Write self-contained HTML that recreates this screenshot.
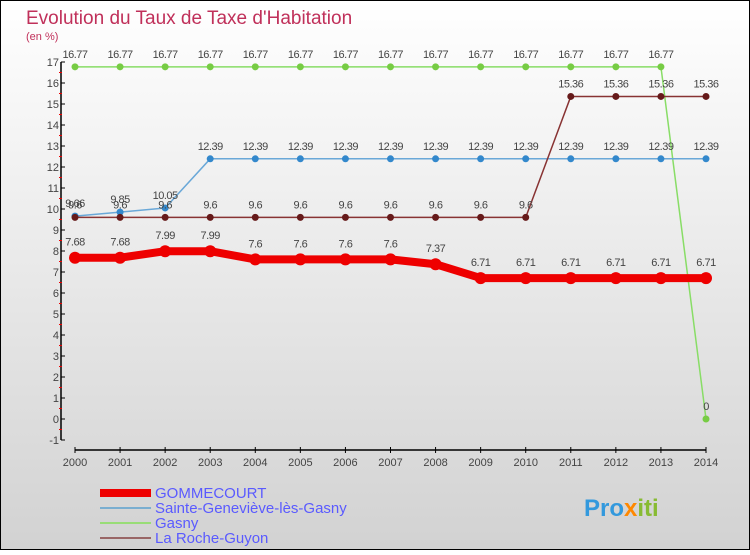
<!DOCTYPE html>
<html><head><meta charset="utf-8"><style>
body{margin:0}
#c{width:750px;height:550px;position:relative;font-family:"Liberation Sans",sans-serif}
</style></head><body>
<div id="c">
<svg id="s" width="750" height="550" xmlns="http://www.w3.org/2000/svg">
<defs><linearGradient id="bg" x1="0" y1="0" x2="0" y2="1"><stop offset="0" stop-color="#ffffff"/><stop offset="1" stop-color="#d2d2d2"/></linearGradient></defs>
<rect x="0.5" y="0.5" width="749" height="549" fill="url(#bg)" stroke="#000"/>
<text x="26" y="24" font-size="19" fill="#c0305a">Evolution du Taux de Taxe d'Habitation</text>
<text x="26" y="40" font-size="11" fill="#c0305a">(en %)</text>
<g id="axes"></g><g id="series"></g>
<g>
<rect x="100" y="489" width="51" height="8" fill="#ee0000"/>
<text x="155" y="498" font-size="15" fill="#5a5aff">GOMMECOURT</text>
<rect x="100" y="507" width="51" height="2" fill="#7aaed0"/>
<text x="155" y="513" font-size="15" fill="#5a5aff">Sainte-Geneviève-lès-Gasny</text>
<rect x="100" y="522" width="51" height="2" fill="#99dd77"/>
<text x="155" y="528" font-size="15" fill="#5a5aff">Gasny</text>
<rect x="100" y="537" width="51" height="2" fill="#996666"/>
<text x="155" y="543" font-size="15" fill="#5a5aff">La Roche-Guyon</text>
</g>
<g><text x="584" y="516" font-size="24" font-weight="bold"><tspan fill="#3399dd">Pro</tspan><tspan fill="#ff8800">x</tspan><tspan fill="#88bb33">iti</tspan></text></g>
</svg></div>
<script>
const years=[2000,2001,2002,2003,2004,2005,2006,2007,2008,2009,2010,2011,2012,2013,2014];
const yTicks=[-1,0,1,2,3,4,5,6,7,8,9,10,11,12,13,14,15,16,17];
const gommecourt=[7.68,7.68,7.99,7.99,7.6,7.6,7.6,7.6,7.37,6.71,6.71,6.71,6.71,6.71,6.71];
const sainteGenevieve=[9.66,9.85,10.05,12.39,12.39,12.39,12.39,12.39,12.39,12.39,12.39,12.39,12.39,12.39,12.39];
const gasny=[16.77,16.77,16.77,16.77,16.77,16.77,16.77,16.77,16.77,16.77,16.77,16.77,16.77,16.77,0];
const laRoche=[9.6,9.6,9.6,9.6,9.6,9.6,9.6,9.6,9.6,9.6,9.6,15.36,15.36,15.36,15.36];
const NS="http://www.w3.org/2000/svg";
const X=i=>75+i*(706-75)/(years.length-1);
const Y=v=>419-v*21;
function mk(t,a,p){const e=document.createElementNS(NS,t);for(const k in a)e.setAttribute(k,a[k]);p.appendChild(e);return e;}
const ax=document.getElementById('axes');
let e=mk('line',{x1:61,y1:Y(17),x2:61,y2:Y(-1),stroke:'#000','stroke-width':1.5},ax);


e=mk('line',{x1:X(0),y1:450,x2:X(14),y2:450,stroke:'#000','stroke-width':1.5},ax);


yTicks.forEach(v=>{
 mk('line',{x1:61,y1:Y(v),x2:65,y2:Y(v),stroke:'#000'},ax);
 if(v<17){mk('line',{x1:59,y1:Y(v+0.5),x2:62,y2:Y(v+0.5),stroke:'#e00'},ax);}
 const t=mk('text',{x:59,y:Y(v)+4,'font-size':11,fill:'#444','text-anchor':'end'},ax);
 t.textContent=v;
 
 
});
years.forEach((y,i)=>{
 mk('line',{x1:X(i),y1:447,x2:X(i),y2:453,stroke:'#000'},ax);
 const t=mk('text',{x:X(i),y:466,'font-size':11,fill:'#444','text-anchor':'middle'},ax);
 t.textContent=y;
 
 
});
const sg=document.getElementById('series');
function series(vals,color,dot,w,r,name,skipLast){
 const g=mk('g',{},sg);
 
 
 const l=mk('polyline',{points:vals.map((v,i)=>X(i)+','+Y(v)).join(' '),fill:'none',stroke:color,'stroke-width':w,'stroke-linejoin':'round'},g);
 
 
 vals.forEach((v,i)=>{
  const c=mk('circle',{cx:X(i),cy:Y(v),r:r,fill:dot},g);
  
  
  const t=mk('text',{x:X(i),y:Y(v)-(w>3?12:9),'font-size':11,fill:'#444','text-anchor':'middle','letter-spacing':'-0.5'},g);
  t.textContent=v;
  
  
 });
}
series(gasny,'#88dd66','#77cc44',1.5,3.5,'series-gasny');
series(sainteGenevieve,'#6aa8d8','#3388cc',1.5,3.5,'series-sainte-genevieve');
series(laRoche,'#883333','#661a1a',1.5,3.5,'series-la-roche-guyon');
series(gommecourt,'#ee0000','#ee0000',8,6,'series-gommecourt');
</script>
</body></html>
